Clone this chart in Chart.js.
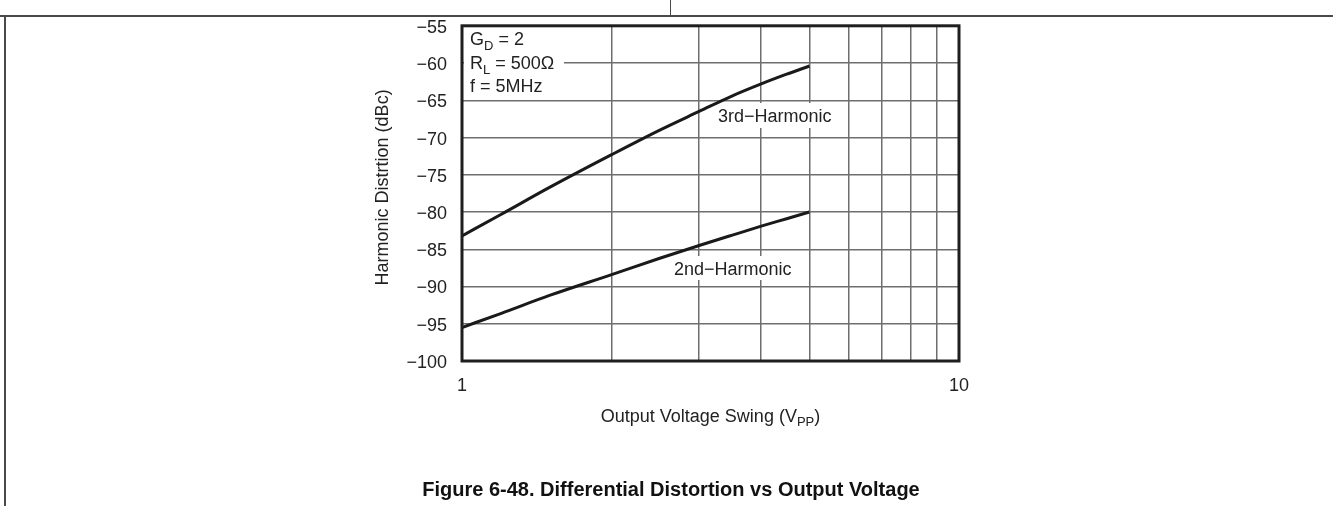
<!DOCTYPE html>
<html>
<head>
<meta charset="utf-8">
<title>Differential Distortion vs Output Voltage</title>
<script src="https://cdn.jsdelivr.net/npm/chart.js@4.4.1/dist/chart.umd.min.js"></script>
<style>
  html, body { margin: 0; padding: 0; background: #fff; }
  #wrap { width: 1333px; height: 506px; }
</style>
</head>
<body>
<div id="wrap"><canvas id="distChart" width="1333" height="506"></canvas></div>
<script>
// Output swing (Vpp) sample points and distortion readings (dBc)
var swing = [1, 1.2, 1.5, 2, 2.5, 3, 3.5, 4, 4.5, 5];
var thirdHarmonic = [-83.2, -80.3, -76.7, -72.3, -69.0, -66.5, -64.4, -62.8, -61.5, -60.4];
var secondHarmonic = [-95.5, -93.6, -91.2, -88.4, -86.2, -84.5, -83.1, -81.9, -80.9, -80.0];
var xGridValues = [1, 2, 3, 4, 5, 6, 7, 8, 9, 10];
var xTickLabels = [1, 10];
var yMin = -100, yMax = -55, yStep = 5;

var FONT = "'Liberation Sans', Arial, Helvetica, sans-serif";
var INK = '#222';

function toPoints(xs, ys) {
  return xs.map(function (x, i) { return { x: x, y: ys[i] }; });
}

// draws text made of [string, isSubscript] pieces, returns end x
function drawRich(ctx, parts, x, y) {
  parts.forEach(function (p) {
    if (p[1]) {
      ctx.font = '13px ' + FONT;
      ctx.fillText(p[0], x, y + 5);
    } else {
      ctx.font = '18px ' + FONT;
      ctx.fillText(p[0], x, y);
    }
    x += ctx.measureText(p[0]).width;
  });
  return x;
}

function richWidth(ctx, parts) {
  var w = 0;
  parts.forEach(function (p) {
    ctx.font = (p[1] ? '13px ' : '18px ') + FONT;
    w += ctx.measureText(p[0]).width;
  });
  return w;
}

// labels inside the plot, on white patches over the grid
var notesPlugin = {
  id: 'notes',
  beforeDatasetsDraw: function (chart) {
    var ctx = chart.ctx;
    var a = chart.chartArea;
    ctx.save();
    ctx.fillStyle = '#fff';
    ctx.fillRect(a.left + 2, a.top + 2, 100, 70);
    ctx.fillRect(714, 103, 126, 25);
    ctx.fillRect(669, 256, 130, 24);

    ctx.fillStyle = INK;
    ctx.textBaseline = 'alphabetic';
    ctx.textAlign = 'left';
    drawRich(ctx, [['G', false], ['D', true], [' = 2', false]], 470, 45);
    drawRich(ctx, [['R', false], ['L', true], [' = 500\u03A9', false]], 470, 69);
    drawRich(ctx, [['f = 5MHz', false]], 470, 92);
    drawRich(ctx, [['3rd\u2212Harmonic', false]], 718, 122);
    drawRich(ctx, [['2nd\u2212Harmonic', false]], 674, 275);
    ctx.restore();
  },
  afterDraw: function (chart) {
    var ctx = chart.ctx;
    var a = chart.chartArea;
    ctx.save();
    // plot frame
    ctx.strokeStyle = '#1e1e1e';
    ctx.lineWidth = 3;
    ctx.strokeRect(a.left, a.top, a.right - a.left, a.bottom - a.top);

    // axis titles
    ctx.fillStyle = INK;
    ctx.textBaseline = 'middle';
    var xt = [['Output Voltage Swing (V', false], ['PP', true], [')', false]];
    var cx = (a.left + a.right) / 2;
    drawRich(ctx, xt, cx - richWidth(ctx, xt) / 2, 417);

    ctx.translate(383, (a.top + a.bottom) / 2 - 6);
    ctx.rotate(-Math.PI / 2);
    ctx.textAlign = 'center';
    ctx.font = '18px ' + FONT;
    ctx.fillText('Harmonic Distrtion (dBc)', 0, 0);
    ctx.restore();

    // caption
    ctx.save();
    ctx.fillStyle = '#111';
    ctx.textAlign = 'center';
    ctx.textBaseline = 'alphabetic';
    ctx.font = 'bold 20px ' + FONT;
    ctx.fillText('Figure 6-48. Differential Distortion vs Output Voltage', 671, 496);

    // page rules
    ctx.strokeStyle = '#4a4a4a';
    ctx.lineWidth = 2;
    ctx.beginPath();
    ctx.moveTo(0, 16); ctx.lineTo(1333, 16);
    ctx.moveTo(5, 16); ctx.lineTo(5, 506);
    ctx.stroke();
    ctx.lineWidth = 1;
    ctx.beginPath();
    ctx.moveTo(670.5, 0); ctx.lineTo(670.5, 16);
    ctx.stroke();
    ctx.restore();
  }
};

window.onload = function () {
  var ctx = document.getElementById('distChart').getContext('2d');
  new Chart(ctx, {
    type: 'line',
    data: {
      datasets: [{
        label: '3rd-Harmonic',
        data: toPoints(swing, thirdHarmonic),
        borderColor: '#1a1a1a',
        borderWidth: 3,
        pointRadius: 0,
        cubicInterpolationMode: 'monotone',
        fill: false
      }, {
        label: '2nd-Harmonic',
        data: toPoints(swing, secondHarmonic),
        borderColor: '#1a1a1a',
        borderWidth: 3,
        pointRadius: 0,
        cubicInterpolationMode: 'monotone',
        fill: false
      }]
    },
    options: {
      responsive: false,
      animation: false,
      layout: { padding: { left: 0, top: 23.5, right: 374, bottom: 0 } },
      plugins: { legend: { display: false }, tooltip: { enabled: false } },
      scales: {
        x: {
          type: 'logarithmic',
          min: 1,
          max: 10,
          afterBuildTicks: function (s) {
            s.ticks = xGridValues.map(function (v) { return { value: v }; });
          },
          afterFit: function (s) { s.height = 145; },
          border: { display: false },
          grid: { color: '#6e6e6e', lineWidth: 1.5, drawTicks: false },
          ticks: {
            autoSkip: false,
            maxRotation: 0,
            padding: 14,
            color: INK,
            font: { family: FONT, size: 18 },
            callback: function (v) {
              return xTickLabels.indexOf(v) >= 0 ? String(v) : '';
            }
          }
        },
        y: {
          min: yMin,
          max: yMax,
          afterFit: function (s) { s.width = 462; },
          border: { display: false },
          grid: { color: '#6e6e6e', lineWidth: 1.5, drawTicks: false },
          ticks: {
            stepSize: yStep,
            padding: 15,
            labelOffset: 2,
            color: INK,
            font: { family: FONT, size: 18 },
            callback: function (v) { return '\u2212' + Math.abs(v); }
          }
        }
      }
    },
    plugins: [notesPlugin]
  });
};
</script>
</body>
</html>
